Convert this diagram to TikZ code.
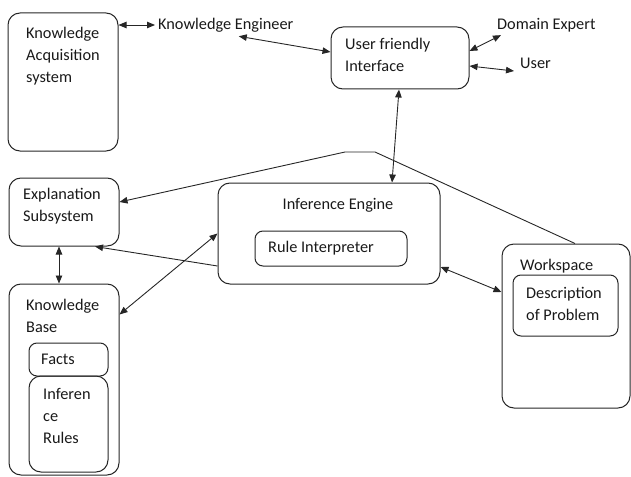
\documentclass[tikz,border=0pt]{standalone}
\usepackage{fontspec}
\setmainfont{Carlito}
\usetikzlibrary{arrows.meta}
\begin{document}
\begin{tikzpicture}[x=1pt,y=-1pt,
  box/.style={draw=black!85,line width=1pt,rounded corners=12pt,inner sep=0pt},
  sbox/.style={draw=black!85,line width=1pt,rounded corners=8pt,inner sep=0pt},
  txt/.style={font=\fontsize{16.3}{22}\selectfont,inner sep=0pt,anchor=west,align=left,text=black!90},
  conn/.style={line width=0.9pt,draw=black!85},
  tip/.tip={Triangle[length=8pt,width=6.5pt]}]
\useasboundingbox (0,0) rectangle (631,476);
% boxes
\node[box,minimum width=110pt,minimum height=138pt] (kas) at (63,82) {};
\node[box,minimum width=138pt,minimum height=62pt] (ufi) at (400,58) {};
\node[box,minimum width=110pt,minimum height=68pt] (exp) at (64,212) {};
\node[box,minimum width=222pt,minimum height=101pt] (ie) at (329,233.5) {};
\node[sbox,minimum width=152pt,minimum height=35pt] (ri) at (331,248.5) {};
\node[box,minimum width=110pt,minimum height=191pt] (kb) at (64,379.5) {};
\node[sbox,minimum width=79pt,minimum height=33pt] (facts) at (68.5,359.5) {};
\node[box,minimum width=79pt,minimum height=96pt] (ir) at (68.5,424) {};
\node[box,minimum width=128pt,minimum height=164pt] (ws) at (566,326) {};
\node[sbox,minimum width=105pt,minimum height=61pt] (dp) at (565.5,305.5) {};
% texts
\node[txt] (kast) at (26,56) {Knowledge\\Acquisition\\system};
\node[txt] (ke) at (158,25) {Knowledge Engineer};
\node[txt] (ufit) at (345,55) {User friendly\\Interface};
\node[txt] (de) at (497,25) {Domain Expert};
\node[txt] (user) at (520,63) {User};
\node[txt] (expt) at (23,206) {Explanation\\Subsystem};
\node[txt,anchor=center] (iet) at (338,205) {Inference Engine};
\node[txt,anchor=center] (rit) at (321,248) {Rule Interpreter};
\node[txt] (kbt) at (26,316) {Knowledge\\Base};
\node[txt] (factst) at (41,359) {Facts};
\node[txt] (irt) at (43,416) {Inferen\\ce\\Rules};
\node[txt] (wst) at (520,266) {Workspace};
\node[txt] (dpt) at (526,303.5) {Description\\of Problem};
% free bends of the feedback line
\coordinate (b1) at (375,152);
\coordinate (b2) at (345,152);
% connectors
\draw[conn,{tip}-{tip}] (kas.north east |- ke.west) -- ([xshift=-3pt]ke.west);
\draw[conn,{tip}-{tip}] ([xshift=13pt,yshift=-4pt]ke.south) -- ([yshift=6pt]ufi.west);
\draw[conn,{tip}-{tip}] ([yshift=7pt]ufi.east) -- ([xshift=4pt,yshift=-3pt]de.south west);
\draw[conn,{tip}-{tip}] ([yshift=-8pt]ufi.east) -- ([xshift=-6pt,yshift=-8pt]user.west);
\draw[conn,{tip}-{tip}] ([xshift=-1pt]ufi.south) -- ([xshift=63pt]ie.north);
\draw[conn,-{tip}] ([xshift=9pt]ws.north) -- (b1) -- (b2) -- ([yshift=10pt]exp.east);
\draw[conn,-{tip}] ([yshift=-32.5pt]ie.west) -- ([xshift=31pt]exp.south);
\draw[conn,{tip}-{tip}] ([xshift=-5pt]exp.south) -- ([xshift=-5pt]kb.north);
\draw[conn,{tip}-{tip}] ([yshift=-31pt]kb.north east) -- (ie.west);
\draw[conn,{tip}-{tip}] ([yshift=-33.5pt]ie.east) -- ([yshift=34pt]ws.west);
\end{tikzpicture}
\end{document}
